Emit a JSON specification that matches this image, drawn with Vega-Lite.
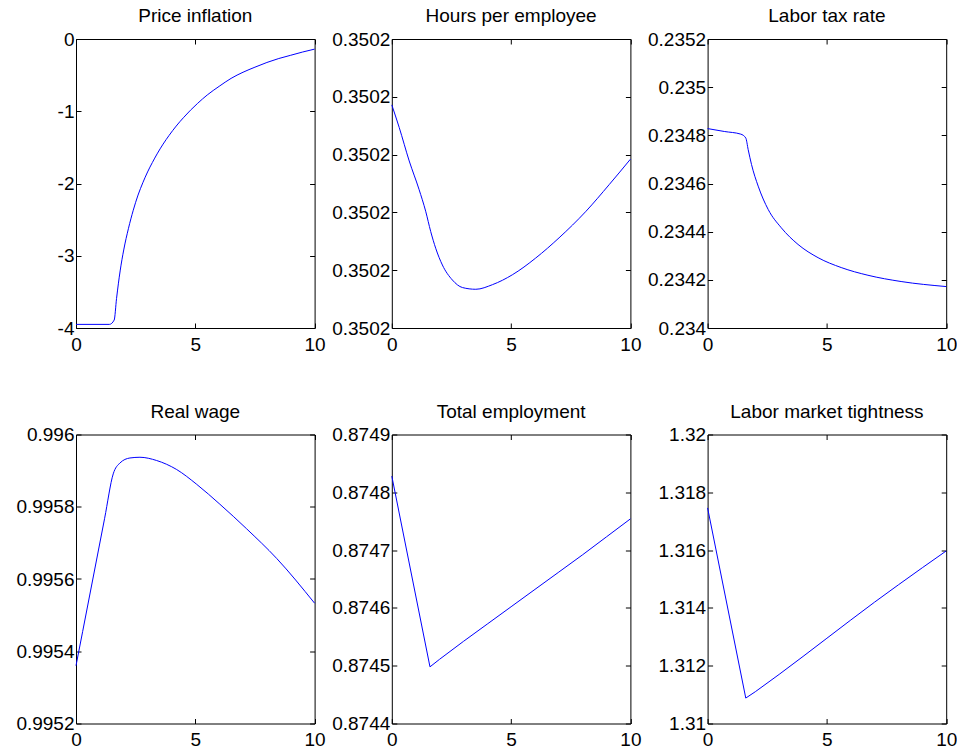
{
  "$schema": "https://vega.github.io/schema/vega-lite/v6.json",
  "padding": {"left": 15, "top": 7, "right": 0, "bottom": 0},
  "datasets": {
    "inflation": [
      {"t": 0, "v": -3.95}, {"t": 1.4, "v": -3.95}, {"t": 1.6, "v": -3.89}, {"t": 1.7, "v": -3.59},
      {"t": 1.85, "v": -3.21}, {"t": 2.0, "v": -2.92}, {"t": 2.2, "v": -2.62}, {"t": 2.4, "v": -2.37},
      {"t": 2.6, "v": -2.16}, {"t": 2.8, "v": -1.99}, {"t": 3.0, "v": -1.84}, {"t": 3.2, "v": -1.71},
      {"t": 3.4, "v": -1.59}, {"t": 3.65, "v": -1.455}, {"t": 3.9, "v": -1.335}, {"t": 4.2, "v": -1.205},
      {"t": 4.5, "v": -1.09}, {"t": 4.8, "v": -0.985}, {"t": 5.1, "v": -0.89}, {"t": 5.5, "v": -0.775},
      {"t": 6.0, "v": -0.655}, {"t": 6.5, "v": -0.545}, {"t": 7.0, "v": -0.46}, {"t": 7.5, "v": -0.39},
      {"t": 8.0, "v": -0.325}, {"t": 8.5, "v": -0.27}, {"t": 9.0, "v": -0.225}, {"t": 9.5, "v": -0.18},
      {"t": 10, "v": -0.14}
    ],
    "hours": [
      {"t": 0, "v": 0.3502186}, {"t": 0.31, "v": 0.3502147}, {"t": 0.73, "v": 0.3502089}, {"t": 1.14, "v": 0.350204},
      {"t": 1.42, "v": 0.3502002}, {"t": 1.63, "v": 0.3501967}, {"t": 1.84, "v": 0.3501938}, {"t": 2.12, "v": 0.3501909},
      {"t": 2.54, "v": 0.3501883}, {"t": 2.96, "v": 0.350187}, {"t": 3.52, "v": 0.3501867}, {"t": 4.22, "v": 0.3501875},
      {"t": 5.05, "v": 0.3501892}, {"t": 6.03, "v": 0.3501921}, {"t": 7.01, "v": 0.3501956}, {"t": 8.14, "v": 0.3502002},
      {"t": 9.11, "v": 0.3502048}, {"t": 10, "v": 0.3502092}
    ],
    "tax": [
      {"t": 0, "v": 0.234828}, {"t": 0.7, "v": 0.234816}, {"t": 1.39, "v": 0.234805}, {"t": 1.6, "v": 0.234789},
      {"t": 1.7, "v": 0.234741}, {"t": 1.84, "v": 0.234679}, {"t": 2.12, "v": 0.234589}, {"t": 2.54, "v": 0.234492},
      {"t": 3.09, "v": 0.234416}, {"t": 3.79, "v": 0.234347}, {"t": 4.63, "v": 0.234292}, {"t": 5.6, "v": 0.234251},
      {"t": 6.72, "v": 0.234219}, {"t": 8.11, "v": 0.234193}, {"t": 10, "v": 0.234172}
    ],
    "wage": [
      {"t": 0, "v": 0.99536}, {"t": 0.28, "v": 0.995455}, {"t": 1.2, "v": 0.995768}, {"t": 1.56, "v": 0.995891},
      {"t": 1.84, "v": 0.995921}, {"t": 2.26, "v": 0.995935}, {"t": 2.68, "v": 0.995937}, {"t": 3.38, "v": 0.995928},
      {"t": 4.22, "v": 0.995903}, {"t": 5.06, "v": 0.995862}, {"t": 6.03, "v": 0.995807}, {"t": 7.15, "v": 0.995739},
      {"t": 8.41, "v": 0.995657}, {"t": 10, "v": 0.995533}
    ],
    "employment": [
      {"t": 0, "v": 0.874828}, {"t": 1.6, "v": 0.874498}, {"t": 2.0, "v": 0.874511}, {"t": 3.0, "v": 0.874542},
      {"t": 4.0, "v": 0.874572}, {"t": 5.0, "v": 0.874602}, {"t": 6.0, "v": 0.874632}, {"t": 7.0, "v": 0.874662},
      {"t": 8.0, "v": 0.874692}, {"t": 9.0, "v": 0.874723}, {"t": 10, "v": 0.874754}
    ],
    "tightness": [
      {"t": 0, "v": 1.31746}, {"t": 1.6, "v": 1.31088}, {"t": 2.0, "v": 1.3111}, {"t": 3.0, "v": 1.3117},
      {"t": 4.0, "v": 1.31232}, {"t": 5.0, "v": 1.31295}, {"t": 6.0, "v": 1.31358}, {"t": 7.0, "v": 1.3142},
      {"t": 8.0, "v": 1.3148}, {"t": 9.0, "v": 1.31539}, {"t": 10, "v": 1.31597}
    ]
  },
  "columns": 3,
  "spacing": {"row": 106.5, "column": 76.8},
  "bounds": "flush",
  "align": "all",
  "concat": [
    {
      "title": "Price inflation",
      "width": 238.6, "height": 289,
      "data": {"name": "inflation"},
      "layer": [
        {"mark": {"type": "line", "color": "#0000ff", "strokeWidth": 1, "interpolate": "monotone"},
         "encoding": {
           "x": {"field": "t", "type": "quantitative", "scale": {"domain": [0, 10], "nice": false, "zero": false}, "axis": {"orient": "bottom", "values": [0, 5, 10], "title": null}},
           "y": {"field": "v", "type": "quantitative", "scale": {"domain": [-4, 0], "nice": false, "zero": false}, "axis": {"orient": "left", "values": [-4, -3, -2, -1, 0], "title": null, "labelExpr": "datum.value + ''"}}
         }},
        {"mark": {"type": "line", "strokeOpacity": 0},
         "encoding": {
           "x": {"field": "t", "type": "quantitative", "axis": {"orient": "top", "values": [0, 5, 10], "labels": false, "title": null}},
           "y": {"field": "v", "type": "quantitative", "axis": {"orient": "right", "values": [-4, -3, -2, -1, 0], "labels": false, "title": null}}
         }}
      ],
      "resolve": {"axis": {"x": "independent", "y": "independent"}}
    },
    {
      "title": "Hours per employee",
      "width": 238.6, "height": 289,
      "data": {"name": "hours"},
      "layer": [
        {"mark": {"type": "line", "color": "#0000ff", "strokeWidth": 1, "interpolate": "monotone"},
         "encoding": {
           "x": {"field": "t", "type": "quantitative", "scale": {"domain": [0, 10], "nice": false, "zero": false}, "axis": {"orient": "bottom", "values": [0, 5, 10], "title": null}},
           "y": {"field": "v", "type": "quantitative", "scale": {"domain": [0.35018, 0.35023], "nice": false, "zero": false}, "axis": {"orient": "left", "values": [0.35018, 0.35019, 0.3502, 0.35021, 0.35022, 0.35023], "format": ".4~f", "title": null}}
         }},
        {"mark": {"type": "line", "strokeOpacity": 0},
         "encoding": {
           "x": {"field": "t", "type": "quantitative", "axis": {"orient": "top", "values": [0, 5, 10], "labels": false, "title": null}},
           "y": {"field": "v", "type": "quantitative", "axis": {"orient": "right", "values": [0.35018, 0.35019, 0.3502, 0.35021, 0.35022, 0.35023], "labels": false, "title": null}}
         }}
      ],
      "resolve": {"axis": {"x": "independent", "y": "independent"}}
    },
    {
      "title": "Labor tax rate",
      "width": 238.6, "height": 289,
      "data": {"name": "tax"},
      "layer": [
        {"mark": {"type": "line", "color": "#0000ff", "strokeWidth": 1, "interpolate": "monotone"},
         "encoding": {
           "x": {"field": "t", "type": "quantitative", "scale": {"domain": [0, 10], "nice": false, "zero": false}, "axis": {"orient": "bottom", "values": [0, 5, 10], "title": null}},
           "y": {"field": "v", "type": "quantitative", "scale": {"domain": [0.234, 0.2352], "nice": false, "zero": false}, "axis": {"orient": "left", "values": [0.234, 0.2342, 0.2344, 0.2346, 0.2348, 0.235, 0.2352], "format": ".4~f", "title": null}}
         }},
        {"mark": {"type": "line", "strokeOpacity": 0},
         "encoding": {
           "x": {"field": "t", "type": "quantitative", "axis": {"orient": "top", "values": [0, 5, 10], "labels": false, "title": null}},
           "y": {"field": "v", "type": "quantitative", "axis": {"orient": "right", "values": [0.234, 0.2342, 0.2344, 0.2346, 0.2348, 0.235, 0.2352], "labels": false, "title": null}}
         }}
      ],
      "resolve": {"axis": {"x": "independent", "y": "independent"}}
    },
    {
      "title": "Real wage",
      "width": 238.6, "height": 289,
      "data": {"name": "wage"},
      "layer": [
        {"mark": {"type": "line", "color": "#0000ff", "strokeWidth": 1, "interpolate": "monotone"},
         "encoding": {
           "x": {"field": "t", "type": "quantitative", "scale": {"domain": [0, 10], "nice": false, "zero": false}, "axis": {"orient": "bottom", "values": [0, 5, 10], "title": null}},
           "y": {"field": "v", "type": "quantitative", "scale": {"domain": [0.9952, 0.996], "nice": false, "zero": false}, "axis": {"orient": "left", "values": [0.9952, 0.9954, 0.9956, 0.9958, 0.996], "format": ".4~f", "title": null}}
         }},
        {"mark": {"type": "line", "strokeOpacity": 0},
         "encoding": {
           "x": {"field": "t", "type": "quantitative", "axis": {"orient": "top", "values": [0, 5, 10], "labels": false, "title": null}},
           "y": {"field": "v", "type": "quantitative", "axis": {"orient": "right", "values": [0.9952, 0.9954, 0.9956, 0.9958, 0.996], "labels": false, "title": null}}
         }}
      ],
      "resolve": {"axis": {"x": "independent", "y": "independent"}}
    },
    {
      "title": "Total employment",
      "width": 238.6, "height": 289,
      "data": {"name": "employment"},
      "layer": [
        {"mark": {"type": "line", "color": "#0000ff", "strokeWidth": 1},
         "encoding": {
           "x": {"field": "t", "type": "quantitative", "scale": {"domain": [0, 10], "nice": false, "zero": false}, "axis": {"orient": "bottom", "values": [0, 5, 10], "title": null}},
           "y": {"field": "v", "type": "quantitative", "scale": {"domain": [0.8744, 0.8749], "nice": false, "zero": false}, "axis": {"orient": "left", "values": [0.8744, 0.8745, 0.8746, 0.8747, 0.8748, 0.8749], "format": ".4~f", "title": null}}
         }},
        {"mark": {"type": "line", "strokeOpacity": 0},
         "encoding": {
           "x": {"field": "t", "type": "quantitative", "axis": {"orient": "top", "values": [0, 5, 10], "labels": false, "title": null}},
           "y": {"field": "v", "type": "quantitative", "axis": {"orient": "right", "values": [0.8744, 0.8745, 0.8746, 0.8747, 0.8748, 0.8749], "labels": false, "title": null}}
         }}
      ],
      "resolve": {"axis": {"x": "independent", "y": "independent"}}
    },
    {
      "title": "Labor market tightness",
      "width": 238.6, "height": 289,
      "data": {"name": "tightness"},
      "layer": [
        {"mark": {"type": "line", "color": "#0000ff", "strokeWidth": 1},
         "encoding": {
           "x": {"field": "t", "type": "quantitative", "scale": {"domain": [0, 10], "nice": false, "zero": false}, "axis": {"orient": "bottom", "values": [0, 5, 10], "title": null}},
           "y": {"field": "v", "type": "quantitative", "scale": {"domain": [1.31, 1.32], "nice": false, "zero": false}, "axis": {"orient": "left", "values": [1.31, 1.312, 1.314, 1.316, 1.318, 1.32], "format": ".3~f", "title": null}}
         }},
        {"mark": {"type": "line", "strokeOpacity": 0},
         "encoding": {
           "x": {"field": "t", "type": "quantitative", "axis": {"orient": "top", "values": [0, 5, 10], "labels": false, "title": null}},
           "y": {"field": "v", "type": "quantitative", "axis": {"orient": "right", "values": [1.31, 1.312, 1.314, 1.316, 1.318, 1.32], "labels": false, "title": null}}
         }}
      ],
      "resolve": {"axis": {"x": "independent", "y": "independent"}}
    }
  ],
  "config": {
    "view": {"stroke": null},
    "axis": {
      "grid": false,
      "domainColor": "black",
      "domainWidth": 1,
      "tickColor": "black",
      "tickWidth": 1,
      "tickSize": -5,
      "labelFont": "Liberation Sans",
      "labelFontSize": 19,
      "labelColor": "black",
      "labelFlush": false,
      "labelOverlap": false,
      "labelBound": false
    },
    "axisX": {"labelPadding": 12},
    "axisY": {"labelPadding": 7},
    "title": {
      "font": "Liberation Sans",
      "fontSize": 19,
      "fontWeight": "normal",
      "color": "black",
      "anchor": "middle",
      "frame": "group",
      "baseline": "alphabetic",
      "offset": 4
    }
  }
}
